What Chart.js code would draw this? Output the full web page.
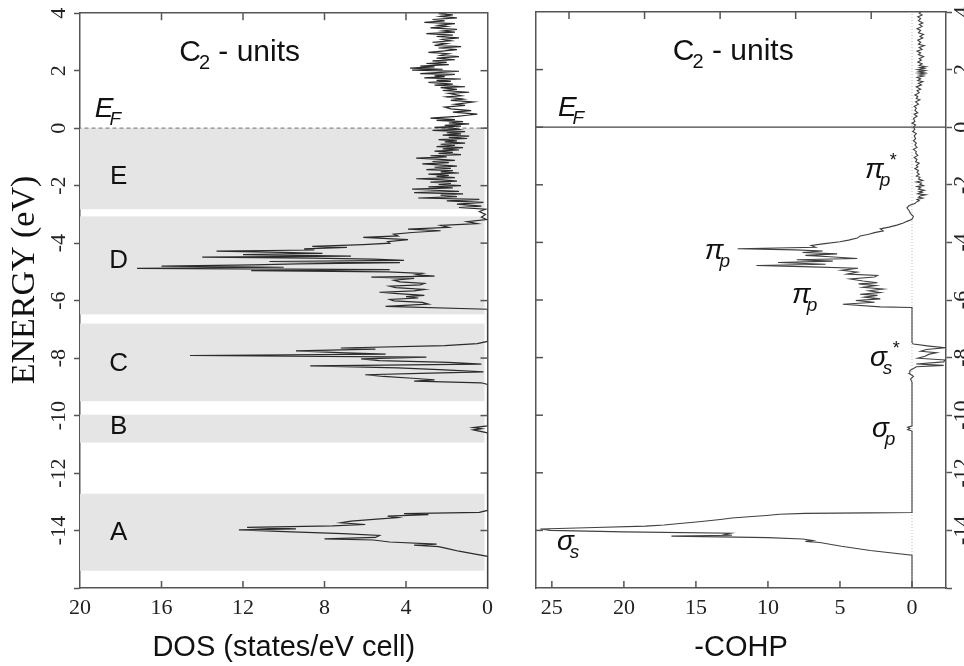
<!DOCTYPE html>
<html>
<head>
<meta charset="utf-8">
<script src="https://cdn.jsdelivr.net/npm/chart.js@4.4.0/dist/chart.umd.min.js"></script>
<style>
  body { margin: 0; background: #fff; }
  #wrap { position: relative; width: 964px; height: 666px; overflow: hidden; }
  #dosChart { position: absolute; left: 0; top: 0; }
  #cohpChart { position: absolute; left: 500px; top: 0; }
</style>
</head>
<body>
<div id="wrap">
  <canvas id="dosChart" width="500" height="666"></canvas>
  <canvas id="cohpChart" width="464" height="666"></canvas>
</div>
<script>
'use strict'

// DOS as [energy (eV), states/eV cell]
var dosA = [[-16.0,0],[-14.9,0],[-14.82,0.6],[-14.72,1.4],[-14.64,1.9],[-14.56,2.4],[-14.51,3.6],[-14.47,2.5],
  [-14.4,4.8],[-14.33,5.6],[-14.29,8.0],[-14.24,5.5],[-14.17,5.3],[-14.11,7.1],[-14.05,9.6],[-13.98,12.2],
  [-13.94,9.4],[-13.89,11.8],[-13.84,7.6],[-13.79,6.0],[-13.73,7.2],[-13.67,6.7],[-13.61,5.6],[-13.55,4.4],
  [-13.5,4.9],[-13.45,2.9],[-13.41,4.1],[-13.37,0.4],[-13.3,0]];
var dosB = [[-10.6,0],[-10.5,0.7],[-10.46,0.3],[-10.42,0.7],[-10.36,0]];
var dosC = [[-8.92,0],[-8.86,0.3],[-8.8,3.6],[-8.76,2.6],[-8.71,3.5],[-8.64,5.1],[-8.58,6.0],[-8.53,3.3],
  [-8.48,0.2],[-8.41,2.1],[-8.34,4.4],[-8.27,8.7],[-8.21,0.3],[-8.15,1.9],[-8.09,5.3],[-8.03,6.2],[-7.97,3.0],
  [-7.91,14.6],[-7.86,5.0],[-7.81,7.3],[-7.75,9.4],[-7.69,5.5],[-7.65,7.2],[-7.57,2.1],[-7.5,0.5],[-7.42,0]];
var dosD = [[-6.3,0],[-6.2,5.0],[-6.12,2.9],[-6.06,3.2],[-6.01,4.6],[-5.96,4.8],[-5.91,3.4],[-5.86,4.0],
  [-5.82,3.1],[-5.76,4.4],[-5.71,5.3],[-5.66,3.6],[-5.61,3.1],[-5.55,4.5],[-5.5,4.8],[-5.45,3.3],[-5.4,3.1],
  [-5.35,4.3],[-5.29,4.6],[-5.23,3.6],[-5.18,5.7],[-5.15,2.6],[-5.1,3.5],[-5.05,3.2],[-5.0,4.9],[-4.96,11.6],
  [-4.92,4.8],[-4.88,17.2],[-4.84,10.0],[-4.8,16.0],[-4.76,11.5],[-4.72,9.3],[-4.68,4.3],[-4.64,10.7],
  [-4.6,4.1],[-4.56,5.6],[-4.52,8.6],[-4.49,14.0],[-4.45,6.7],[-4.4,12.0],[-4.36,8.1],[-4.32,10.1],
  [-4.28,13.3],[-4.24,8.5],[-4.2,9.0],[-4.15,6.9],[-4.11,8.6],[-4.05,6.1],[-4.0,4.8],[-3.95,4.9],[-3.88,3.9],
  [-3.8,6.1],[-3.75,4.4],[-3.69,4.6],[-3.63,3.7],[-3.57,2.3],[-3.51,3.9],[-3.45,1.9],[-3.38,2.3],[-3.32,0.5],
  [-3.25,1.0],[-3.18,0.05],[-3.1,0.3],[-3.0,0.1],[-2.9,0.4]];
var dosE = [[-2.82,0.1],[-2.76,1.4],[-2.71,0.3],[-2.64,1.5],[-2.58,0.2],[-2.53,2.0],[-2.48,0.4],[-2.43,3.4],
  [-2.38,1.5],[-2.33,2.3],[-2.29,1.2],[-2.24,3.6],[-2.2,1.4],[-2.16,2.6],[-2.12,3.7],[-2.08,1.7],[-2.04,2.9],
  [-2.0,1.3],[-1.96,2.4],[-1.92,1.8],[-1.88,2.8],[-1.84,1.5],[-1.8,2.2],[-1.76,3.5],[-1.72,1.6],[-1.68,2.5],
  [-1.64,1.9],[-1.6,2.9],[-1.56,1.4],[-1.52,2.3],[-1.48,1.7],[-1.44,3.0],[-1.4,1.8],[-1.36,2.6],[-1.32,1.5],
  [-1.28,2.4],[-1.24,3.2],[-1.2,1.9],[-1.16,2.7],[-1.12,1.6],[-1.08,2.5],[-1.04,3.5],[-1.0,2.0],[-0.96,2.8],
  [-0.92,1.3],[-0.88,2.4],[-0.84,1.7],[-0.8,2.6],[-0.76,1.4],[-0.72,2.2],[-0.68,1.2],[-0.64,2.5],[-0.6,1.6],
  [-0.56,2.3],[-0.52,1.1],[-0.48,2.1],[-0.44,1.5],[-0.4,2.4],[-0.36,1.0],[-0.32,1.9],[-0.28,0.9],[-0.24,2.2],
  [-0.2,1.3],[-0.16,2.0],[-0.12,1.1],[-0.08,2.7],[-0.04,1.4],[0.0,1.7]];
var dosAbove = [[0.03,2.6],[0.07,1.3],[0.1,2.1],[0.15,0.9],[0.18,1.9],[0.23,1.2],[0.27,2.5],[0.3,1.6],
  [0.35,2.8],[0.41,1.5],[0.45,1.0],[0.49,0.5],[0.56,1.7],[0.61,0.8],[0.67,1.8],[0.73,2.1],[0.79,1.1],
  [0.83,1.6],[0.91,0.7],[0.97,1.8],[1.01,1.2],[1.09,2.0],[1.13,1.3],[1.21,1.9],[1.25,0.9],[1.31,2.2],
  [1.35,1.5],[1.41,2.3],[1.44,1.1],[1.5,2.6],[1.53,1.7],[1.59,2.9],[1.63,1.8],[1.66,2.5],[1.71,1.3],
  [1.75,3.1],[1.79,2.1],[1.82,2.6],[1.87,1.6],[1.9,3.3],[1.94,2.3],[1.98,1.4],[2.02,3.7],[2.05,2.2],
  [2.09,3.8],[2.13,2.6],[2.16,3.3],[2.21,1.9],[2.25,3.0],[2.29,2.0],[2.34,2.7],[2.38,1.6],[2.44,2.5],
  [2.49,1.4],[2.53,2.3],[2.59,1.9],[2.64,2.9],[2.69,2.1],[2.73,1.5],[2.79,2.4],[2.84,1.3],[2.88,2.6],
  [2.94,2.0],[2.99,2.7],[3.04,1.8],[3.09,2.2],[3.14,1.4],[3.19,2.5],[3.24,1.7],[3.29,3.0],[3.34,1.6],
  [3.38,2.2],[3.44,1.5],[3.49,2.8],[3.54,2.0],[3.58,2.4],[3.64,1.6],[3.68,3.1],[3.73,2.1],[3.78,2.7],
  [3.84,1.5],[3.89,2.3],[3.94,1.7],[3.98,2.4],[4.0,2.0]];

// -COHP, [energy (eV), -COHP]
var cohpSigmaS = [[-16.0,0],[-14.86,0],[-14.7,2.9],[-14.55,4.9],[-14.42,6.4],[-14.38,7.4],[-14.35,6.9],
  [-14.3,7.6],[-14.25,10.0],[-14.2,16.7],[-14.17,12.5],[-14.14,13.0],[-14.1,12.6],[-14.05,20.0],[-14.0,25.1],
  [-13.95,25.8],[-13.9,22.0],[-13.85,18.5],[-13.81,17.2],[-13.77,16.3],[-13.7,14.8],[-13.62,13.3],[-13.57,12.5],
  [-13.52,11.1],[-13.48,10.1],[-13.44,9.2],[-13.41,7.4],[-13.39,3.0],[-13.38,0]];
var cohpSigmaP = [[-10.55,0],[-10.5,0.3],[-10.46,0.15],[-10.42,0.3],[-10.38,0]];
var cohpSigmaSx = [[-8.85,0],[-8.75,0.1],[-8.65,-0.1],[-8.55,0.2],[-8.45,0.15],[-8.38,-0.1],[-8.32,-0.3],
  [-8.27,-2.2],[-8.22,-0.3],[-8.15,-2.2],[-8.08,-2.3],[-8.02,-0.4],[-7.95,-0.9],[-7.88,-1.2],[-7.83,-1.7],
  [-7.78,-0.6],[-7.72,-1.0],[-7.66,-2.3],[-7.6,-1.2],[-7.53,-0.1],[-7.48,0]];
var cohpPi = [[-6.26,0],[-6.24,2.2],[-6.15,4.8],[-6.08,2.6],[-6.02,3.9],[-5.96,2.2],[-5.9,3.3],[-5.84,2.4],
  [-5.8,3.6],[-5.74,2.2],[-5.68,3.0],[-5.62,2.0],[-5.56,3.4],[-5.5,2.5],[-5.44,3.7],[-5.4,2.4],[-5.34,3.4],
  [-5.27,4.3],[-5.2,2.6],[-5.15,2.4],[-5.1,4.5],[-5.03,3.8],[-4.97,4.9],[-4.9,3.75],[-4.85,7.0],[-4.8,10.8],
  [-4.76,6.0],[-4.7,9.3],[-4.65,5.5],[-4.6,8.0],[-4.56,3.8],[-4.5,5.7],[-4.45,7.4],[-4.4,5.2],[-4.35,7.6],
  [-4.3,6.2],[-4.26,8.1],[-4.22,12.1],[-4.17,6.7],[-4.11,7.0],[-4.05,6.2],[-3.98,5.0],[-3.92,4.4],[-3.85,3.8],
  [-3.78,3.6],[-3.72,3.0],[-3.66,2.6],[-3.6,2.0],[-3.53,2.2],[-3.47,1.6],[-3.4,1.05],[-3.33,0.6],[-3.27,0.35],
  [-3.2,0]];
var cohpUpper = [[-3.1,-0.1],[-3.0,0.1],[-2.9,0.2],[-2.8,0.35],[-2.72,0.2],[-2.65,-0.2],[-2.6,-0.3],
  [-2.55,-0.5],[-2.51,-0.35],[-2.46,-0.75],[-2.43,-0.45],[-2.38,-0.6],[-2.35,-0.95],[-2.31,-0.4],[-2.26,-0.7],
  [-2.24,-0.5],[-2.19,-0.85],[-2.15,-0.45],[-2.1,-0.6],[-2.06,-0.35],[-2.03,-0.8],[-1.98,-0.55],[-1.94,-0.65],
  [-1.9,-0.3],[-1.85,-0.75],[-1.8,-0.45],[-1.74,-0.55],[-1.7,-0.3],[-1.63,-0.5],[-1.58,-0.35],[-1.5,-0.45],
  [-1.44,-0.2],[-1.38,-0.4],[-1.33,-0.3],[-1.25,-0.5],[-1.2,-0.25],[-1.12,-0.35],[-1.05,-0.15],[-0.98,-0.4],
  [-0.9,-0.25],[-0.85,-0.3],[-0.77,-0.1],[-0.7,-0.35],[-0.62,-0.2],[-0.55,-0.3],[-0.47,-0.1],[-0.4,-0.25],
  [-0.3,-0.15],[-0.22,-0.3],[-0.15,-0.05],[-0.07,-0.2],[0.0,-0.1],[0.08,-0.25],[0.14,0.0],[0.2,-0.2],
  [0.3,-0.1],[0.38,-0.35],[0.45,-0.15],[0.5,-0.4],[0.58,-0.2],[0.66,-0.3],[0.72,-0.15],[0.8,-0.45],
  [0.88,-0.25],[0.95,-0.55],[1.0,-0.3],[1.07,-0.4],[1.12,-0.2],[1.2,-0.5],[1.27,-0.35],[1.32,-0.6],
  [1.4,-0.3],[1.47,-0.65],[1.52,-0.45],[1.58,-0.75],[1.62,-0.4],[1.68,-0.6],[1.73,-0.35],[1.78,-0.8],
  [1.81,-0.5],[1.85,-0.9],[1.88,-0.45],[1.91,-0.85],[1.94,-0.5],[1.97,-0.9],[2.0,-0.4],[2.04,-0.85],
  [2.07,-0.55],[2.1,-0.95],[2.14,-0.5],[2.2,-0.7],[2.26,-0.4],[2.33,-0.65],[2.38,-0.5],[2.45,-0.8],
  [2.52,-0.45],[2.58,-0.6],[2.64,-0.35],[2.7,-0.7],[2.77,-0.5],[2.83,-0.85],[2.88,-0.45],[2.95,-0.6],
  [3.02,-0.4],[3.1,-0.75],[3.15,-0.55],[3.22,-0.8],[3.28,-0.45],[3.36,-0.6],[3.42,-0.35],[3.5,-0.7],
  [3.57,-0.5],[3.62,-0.75],[3.7,-0.45],[3.77,-0.6],[3.83,-0.4],[3.9,-0.7],[3.96,-0.5],[4.0,-0.6]];

// energy bands shaded in the DOS panel
var bandNames = ['A', 'B', 'C', 'D', 'E'];
var bandLow = [-15.4, -10.94, -9.5, -6.48, -2.82];
var bandHigh = [-12.72, -9.97, -6.8, -3.07, 0];
var bandLabelAt = [-14.07, -10.4, -8.2, -4.63, -1.7];

// orbital labels in the COHP panel: [symbol, subscript, star, -COHP, energy]
var cohpNotes = [
  ['\u03c0', 'p', true, 3.26, -1.78],
  ['\u03c0', 'p', false, 14.38, -4.56],
  ['\u03c0', 'p', false, 8.33, -6.1],
  ['\u03c3', 's', true, 2.92, -8.29],
  ['\u03c3', 'p', false, 2.78, -10.77],
  ['\u03c3', 's', false, 24.65, -14.67]
];

function toPoints(list) {
  return list.map(function(p){ return {x: p[1], y: p[0]}; });
}

var dosPoints = toPoints([].concat(dosA, dosB, dosC, dosD, dosE, dosAbove));
var cohpPoints = toPoints([].concat(cohpSigmaS, cohpSigmaP, cohpSigmaSx, cohpPi, cohpUpper));

var frameColor = '#555';
var frameBorder = {display: true, color: frameColor, width: 1.5};
var tickFont = {family: 'Liberation Serif', size: 22};

Chart.defaults.font.family = 'Liberation Sans';

// ticks pointing into the plot
function drawInwardTicks(chart, ids) {
  var ctx = chart.ctx, a = chart.chartArea;
  ctx.save();
  ctx.strokeStyle = frameColor;
  ctx.lineWidth = 1.5;
  ids.forEach(function(id){
    var s = chart.scales[id];
    s.ticks.forEach(function(t){
      var p = s.getPixelForValue(t.value);
      ctx.beginPath();
      if (s.isHorizontal()) {
        if (p < a.left + 2 || p > a.right - 2) return;
        var y0 = s.position === 'top' ? a.top : a.bottom;
        ctx.moveTo(p, y0);
        ctx.lineTo(p, y0 + (s.position === 'top' ? 7 : -7));
      } else {
        if (p < a.top + 2 || p > a.bottom - 2) return;
        var x0 = s.position === 'left' ? a.left : a.right;
        ctx.moveTo(x0, p);
        ctx.lineTo(x0 + (s.position === 'left' ? 7 : -7), p);
      }
      ctx.stroke();
    });
  });
  ctx.restore();
}

function drawUnits(ctx, x, y) {
  ctx.font = '30px "Liberation Sans"';
  ctx.fillText('C', x, y);
  var w = ctx.measureText('C').width;
  ctx.font = '20px "Liberation Sans"';
  ctx.fillText('2', x + w - 2, y + 8);
  var w2 = ctx.measureText('2').width;
  ctx.font = '30px "Liberation Sans"';
  ctx.fillText(' - units', x + w - 2 + w2, y);
}

function drawSymbol(ctx, x, y, main, sub, star, size) {
  ctx.font = 'italic ' + size + 'px "Liberation Sans"';
  ctx.fillText(main, x, y);
  var w = ctx.measureText(main).width;
  ctx.font = 'italic ' + Math.round(size * 0.68) + 'px "Liberation Sans"';
  ctx.fillText(sub, x + w - 4, y + 8);
  if (star) {
    ctx.font = '18px "Liberation Sans"';
    ctx.fillText('*', x + w + 6, y - 12);
  }
}

var dosDecor = {
  id: 'dosDecor',
  beforeDatasetsDraw: function(chart) {
    var ctx = chart.ctx, a = chart.chartArea, ys = chart.scales.y;
    ctx.save();
    ctx.fillStyle = '#e5e5e5';
    for (var i = 0; i < bandNames.length; i++) {
      var top = ys.getPixelForValue(bandHigh[i]);
      var bot = ys.getPixelForValue(bandLow[i]);
      ctx.fillRect(a.left, top, a.right - a.left - 3, bot - top);
    }
    ctx.restore();
  },
  afterDraw: function(chart) {
    var ctx = chart.ctx, xs = chart.scales.x, ys = chart.scales.y;
    drawInwardTicks(chart, ['x', 'xTop', 'y2']);
    ctx.save();
    ctx.fillStyle = '#111';
    ctx.textBaseline = 'alphabetic';
    ctx.textAlign = 'left';
    drawUnits(ctx, xs.getPixelForValue(15.13), ys.getPixelForValue(2.33));
    drawSymbol(ctx, xs.getPixelForValue(19.27), ys.getPixelForValue(0.38), 'E', 'F', false, 28);
    ctx.font = '26px "Liberation Sans"';
    ctx.textAlign = 'center';
    ctx.textBaseline = 'middle';
    for (var i = 0; i < bandNames.length; i++) {
      ctx.fillText(bandNames[i], xs.getPixelForValue(18.1), ys.getPixelForValue(bandLabelAt[i]));
    }
    // y axis title
    ctx.translate(25, 280);
    ctx.rotate(-Math.PI / 2);
    ctx.font = '34px "Liberation Serif"';
    ctx.fillText('ENERGY (eV)', 0, 0);
    ctx.restore();
  }
};

var cohpDecor = {
  id: 'cohpDecor',
  afterDraw: function(chart) {
    var ctx = chart.ctx, xs = chart.scales.x, ys = chart.scales.y;
    drawInwardTicks(chart, ['x', 'xTop', 'y']);
    ctx.save();
    ctx.fillStyle = '#111';
    ctx.textBaseline = 'alphabetic';
    ctx.textAlign = 'left';
    drawUnits(ctx, xs.getPixelForValue(16.6), ys.getPixelForValue(2.33));
    drawSymbol(ctx, xs.getPixelForValue(24.58), ys.getPixelForValue(0.38), 'E', 'F', false, 28);
    cohpNotes.forEach(function(n){
      drawSymbol(ctx, xs.getPixelForValue(n[3]), ys.getPixelForValue(n[4]), n[0], n[1], n[2], 28);
    });
    ctx.restore();
  }
};

function frameScale(position, min, max, step, size, extra) {
  var s = {
    type: 'linear', position: position, min: min, max: max,
    ticks: {display: false, stepSize: step, includeBounds: false},
    grid: {display: true, drawOnChartArea: false, drawTicks: false},
    border: frameBorder,
    afterFit: function(scale) {
      if (scale.isHorizontal()) scale.height = size; else scale.width = size;
    }
  };
  return Object.assign(s, extra || {});
}

var energyTicks = {
  display: true, stepSize: 2, includeBounds: false, minRotation: 90, maxRotation: 90,
  crossAlign: 'center', autoSkip: false, color: '#222', font: tickFont,
  callback: function(v) { return v === -16 ? '' : v; }
};

var dosChart = new Chart(document.getElementById('dosChart'), {
  type: 'scatter',
  data: {
    datasets: [{
      data: dosPoints,
      showLine: true,
      borderColor: '#2b2b2b',
      borderWidth: 1.2,
      pointRadius: 0,
      tension: 0
    }, {
      // Fermi level
      data: [{x: 0, y: 0}, {x: 20, y: 0}],
      showLine: true,
      borderColor: '#888',
      borderWidth: 1.2,
      borderDash: [4, 3],
      pointRadius: 0
    }]
  },
  options: {
    responsive: false,
    animation: false,
    devicePixelRatio: 1,
    events: [],
    layout: {padding: 0},
    plugins: {legend: {display: false}, tooltip: {enabled: false}},
    scales: {
      x: frameScale('bottom', 0, 20, 4, 78, {
        reverse: true,
        ticks: {display: true, stepSize: 4, padding: 7, color: '#222', font: tickFont},
        title: {display: true, text: 'DOS (states/eV cell)', color: '#111',
          font: {family: 'Liberation Sans', size: 29}, padding: {top: 0, bottom: 1}}
      }),
      xTop: frameScale('top', 0, 20, 4, 12, {reverse: true}),
      y: frameScale('left', -16, 4, 2, 80, {
        ticks: Object.assign({padding: 0}, energyTicks),
        grid: {display: true, drawOnChartArea: false, drawTicks: true, tickLength: 6,
          color: frameColor, tickWidth: 1.5}
      }),
      y2: frameScale('right', -16, 4, 2, 9)
    }
  },
  plugins: [dosDecor]
});

var cohpChart = new Chart(document.getElementById('cohpChart'), {
  type: 'scatter',
  data: {
    datasets: [{
      data: cohpPoints,
      showLine: true,
      borderColor: '#404040',
      borderWidth: 1.1,
      pointRadius: 0,
      tension: 0
    }, {
      // Fermi level
      data: [{x: -2.36, y: 0}, {x: 26.1, y: 0}],
      showLine: true,
      borderColor: '#444',
      borderWidth: 1.2,
      pointRadius: 0
    }, {
      // zero line
      data: [{x: 0, y: -16}, {x: 0, y: 4}],
      showLine: true,
      borderColor: '#bbb',
      borderWidth: 1,
      borderDash: [1, 2],
      pointRadius: 0
    }]
  },
  options: {
    responsive: false,
    animation: false,
    devicePixelRatio: 1,
    events: [],
    layout: {padding: 0},
    plugins: {legend: {display: false}, tooltip: {enabled: false}},
    scales: {
      x: frameScale('bottom', -2.36, 26.1, 5, 78, {
        reverse: true,
        ticks: {display: true, stepSize: 5, includeBounds: false, padding: 7, color: '#222', font: tickFont},
        title: {display: true, text: '-COHP', color: '#111',
          font: {family: 'Liberation Sans', size: 29}, padding: {top: 0, bottom: 1}}
      }),
      xTop: frameScale('top', -0.437, 4.99, 1, 12),
      y: frameScale('left', -16, 4, 2, 36),
      y2: frameScale('right', -16, 4, 2, 18, {
        ticks: Object.assign({padding: -4}, energyTicks),
        grid: {display: true, drawOnChartArea: false, drawTicks: true, tickLength: 6,
          color: frameColor, tickWidth: 1.5}
      })
    }
  },
  plugins: [cohpDecor]
});
</script>
</body>
</html>
